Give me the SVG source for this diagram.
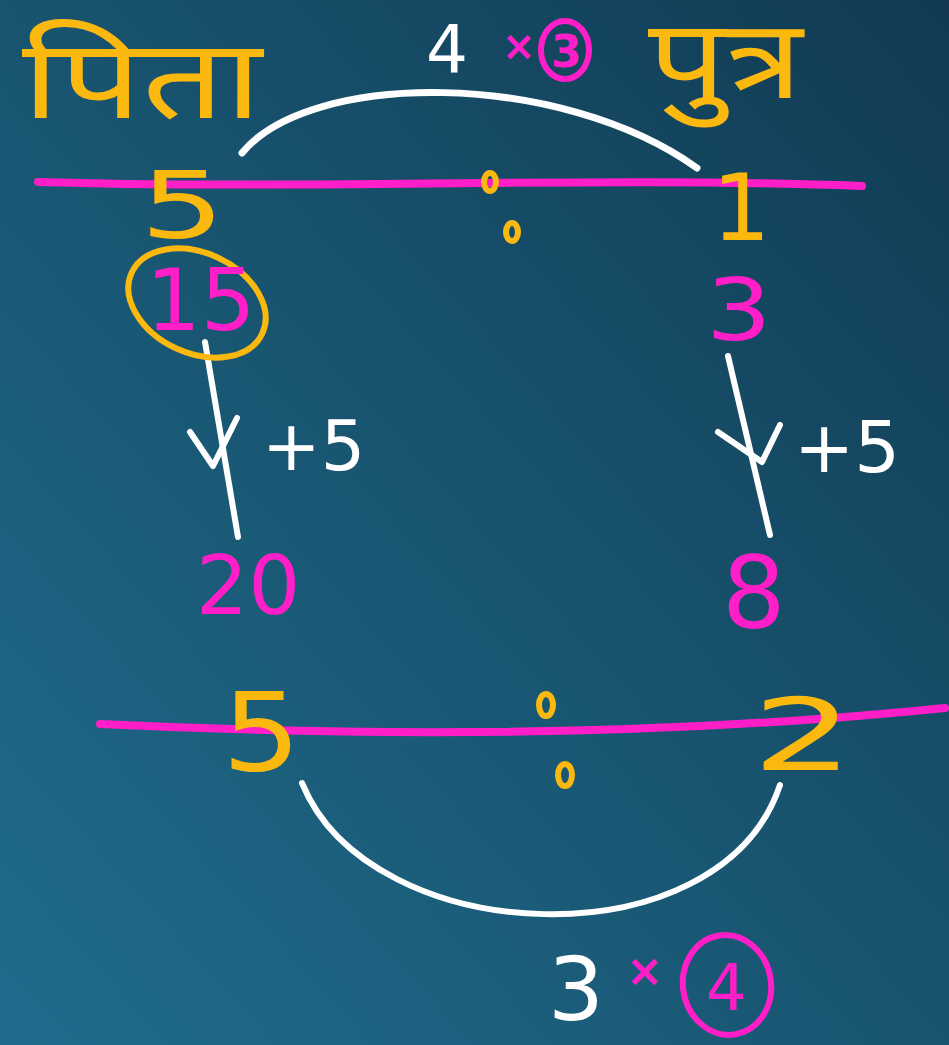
<svg xmlns="http://www.w3.org/2000/svg" width="949" height="1045" viewBox="0 0 949 1045">
  <defs>
    <linearGradient id="bg" x1="1" y1="0" x2="0" y2="1">
      <stop offset="0" stop-color="#113a52"/>
      <stop offset="0.5" stop-color="#185470"/>
      <stop offset="1" stop-color="#1f6c8c"/>
    </linearGradient>
  </defs>
  <style>
    .ink { fill: none; stroke-linecap: round; stroke-linejoin: round; }
    .w { stroke: #ffffff; }
    .m { stroke: #ff1ec8; }
    .y { stroke: #fbb80f; }
    .t { font-family: "DejaVu Sans", "Liberation Sans", sans-serif; }
    .dev { font-family: "Noto Sans Devanagari", "Noto Sans", "Lohit Devanagari", "FreeSans", sans-serif; }
    .tw { fill: #ffffff; }
    .tm { fill: #ff1ec8; }
    .ty { fill: #fbb80f; }
  </style>
  <rect width="949" height="1045" fill="url(#bg)"/>

  <g id="connectors">
    <path class="ink w" stroke-width="7" d="M242,153 C310,70 560,70 697,168"/>
    <path class="ink m" stroke-width="8" d="M38,182 C300,190 600,176 862,186"/>
    <path class="ink w" stroke-width="6" d="M205,342 L238,537"/>
    <polyline class="ink w" stroke-width="6" points="190,432 213,466 237,418"/>
    <path class="ink w" stroke-width="6" d="M728,356 L770,535"/>
    <polyline class="ink w" stroke-width="6" points="718,432 762,462 780,425"/>
    <path class="ink m" stroke-width="8" d="M100,724 C350,736 650,738 945,708"/>
    <path class="ink w" stroke-width="6" d="M302,783 C370,950 720,965 780,785"/>
  </g>

  <g id="father-label">
    <text class="dev ty" transform="translate(22,118) scale(1.45,1.1)" font-size="100">पिता</text>
  </g>
  <g id="son-label">
    <text class="dev ty" transform="translate(648,98) scale(1.5,1.2)" font-size="92">पुत्र</text>
  </g>
  <g id="top-diff">
    <text class="t tw" x="426" y="72" font-size="66">4</text>
    <text class="t tm" x="502" y="60" font-size="40" font-weight="bold">×</text>
    <ellipse class="ink m" stroke-width="6" cx="565" cy="50" rx="24" ry="29"/>
    <text class="t tm" x="551" y="67" font-size="44" font-weight="bold">3</text>
  </g>
  <g id="ratio-top">
    <text class="t ty" transform="translate(140,238) scale(1.45,1)" font-size="92">5</text>
    <ellipse class="ink y" stroke-width="6" cx="490" cy="182" rx="6" ry="9"/>
    <ellipse class="ink y" stroke-width="6" cx="512" cy="232" rx="6" ry="9"/>
    <text class="t ty" x="712" y="240" font-size="92">1</text>
  </g>
  <g id="father-now">
    <ellipse class="ink y" stroke-width="6" cx="197" cy="303" rx="72" ry="50" transform="rotate(25 197 303)"/>
    <text class="t tm" x="146" y="330" font-size="86">15</text>
  </g>
  <g id="son-now">
    <text class="t tm" transform="translate(706,340) scale(1.2,1)" font-size="86">3</text>
  </g>
  <g id="left-step">
    <text class="t tw" x="262" y="470" font-size="70">+5</text>
  </g>
  <g id="right-step">
    <text class="t tw" x="794" y="472" font-size="72">+5</text>
  </g>
  <g id="father-later">
    <text class="t tm" x="196" y="614" font-size="82">20</text>
  </g>
  <g id="son-later">
    <text class="t tm" x="722" y="628" font-size="100">8</text>
  </g>
  <g id="ratio-bottom">
    <text class="t ty" transform="translate(222,770) scale(1.15,1)" font-size="108">5</text>
    <ellipse class="ink y" stroke-width="6" cx="546" cy="705" rx="7" ry="11"/>
    <ellipse class="ink y" stroke-width="6" cx="565" cy="775" rx="7" ry="11"/>
    <text class="t ty" transform="translate(752,770) scale(1.6,1)" font-size="100">2</text>
  </g>
  <g id="bottom-diff">
    <text class="t tw" x="548" y="1020" font-size="88">3</text>
    <text class="t tm" x="626" y="986" font-size="44" font-weight="bold">×</text>
    <ellipse class="ink m" stroke-width="6" cx="727" cy="985" rx="44" ry="50" transform="rotate(-10 727 985)"/>
    <text class="t tm" x="706" y="1010" font-size="64">4</text>
  </g>
</svg>
